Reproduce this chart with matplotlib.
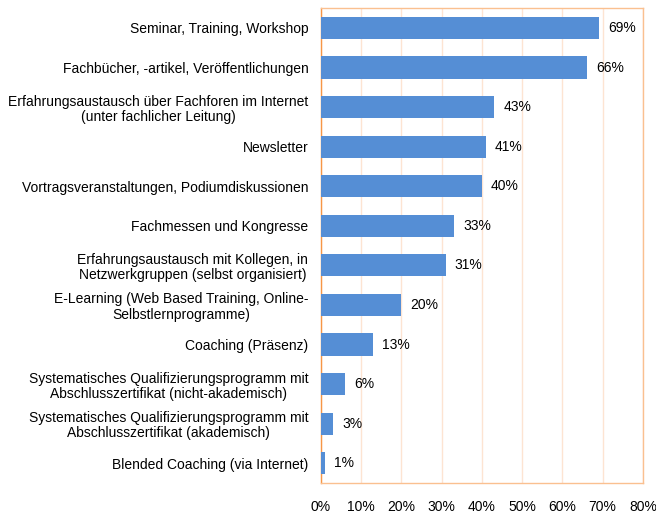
import numpy as np
import matplotlib.pyplot as plt

plt.rcParams['font.family'] = ['Liberation Sans', 'DejaVu Sans']

categories = [
    'Seminar, Training, Workshop',
    'Fachbücher, -artikel, Veröffentlichungen',
    'Erfahrungsaustausch über Fachforen im Internet\n(unter fachlicher Leitung)',
    'Newsletter',
    'Vortragsveranstaltungen, Podiumdiskussionen',
    'Fachmessen und Kongresse',
    'Erfahrungsaustausch mit Kollegen, in\nNetzwerkgruppen (selbst organisiert)',
    'E-Learning (Web Based Training, Online-\nSelbstlernprogramme)',
    'Coaching (Präsenz)',
    'Systematisches Qualifizierungsprogramm mit\nAbschlusszertifikat (nicht-akademisch)',
    'Systematisches Qualifizierungsprogramm mit\nAbschlusszertifikat (akademisch)',
    'Blended Coaching (via Internet)',
]
values = [69, 66, 43, 41, 40, 33, 31, 20, 13, 6, 3, 1]
xticks = [0, 10, 20, 30, 40, 50, 60, 70, 80]

fig = plt.figure(figsize=(6.56, 5.13), dpi=100)
ax = fig.add_axes([0.489, 0.0585, 0.491, 0.9255])

y = np.arange(len(categories))
ax.barh(y, values, height=0.56, color='#558ED5', zorder=3)
for yi, v in zip(y, values):
    ax.text(v + 2.3, yi, f'{v}%', va='center', ha='left', fontsize=10, color='#000000')

ax.set_yticks(y)
ax.set_yticklabels(categories, fontsize=10, ha='right', multialignment='center',
                   linespacing=1.1)
ax.tick_params(axis='y', length=0, pad=9)
ax.set_ylim(len(categories) - 0.5, -0.5)

ax.set_xlim(0, 80)
ax.set_xticks(xticks)
ax.set_xticklabels([f'{t}%' for t in xticks], fontsize=10)
ax.tick_params(axis='x', length=0, pad=12)
ax.grid(axis='x', color='#FDE4D2', linewidth=1, zorder=0)
for s in ax.spines.values():
    s.set_color('#FAC090')
    s.set_linewidth(1)
ax.spines['left'].set_color('#F79646')

fig.savefig('out.png', dpi=100)
